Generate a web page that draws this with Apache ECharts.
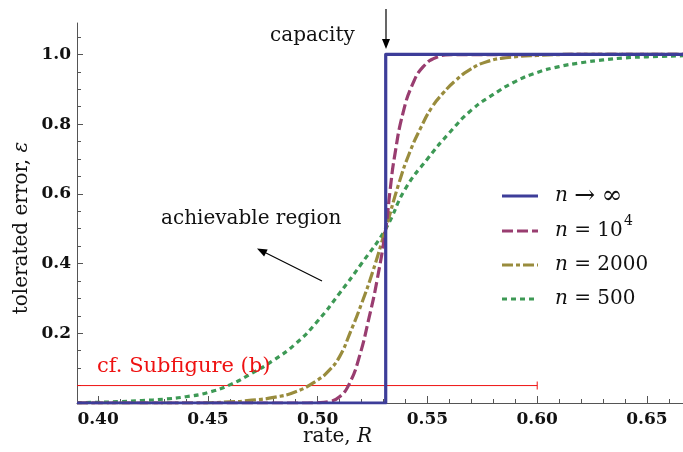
<!DOCTYPE html>
<html>
<head>
<meta charset="utf-8">
<script src="https://cdn.jsdelivr.net/npm/echarts@6/dist/echarts.min.js"></script>
<style>
html,body{margin:0;padding:0;background:#fff;}
#chart{width:683px;height:452px;}
</style>
</head>
<body>
<div id="chart"></div>
<script>
// ---- data ----
const xMin = 0.3904, xMax = 0.6664, yMin = 0, yMax = 1.09;
const xMajorTicks = [0.40, 0.45, 0.50, 0.55, 0.60, 0.65];
const xMinorTicks = [0.41,0.42,0.43,0.44,0.46,0.47,0.48,0.49,0.51,0.52,0.53,0.54,0.56,0.57,0.58,0.59,0.61,0.62,0.63,0.64,0.66];
const yMajorTicks = [0.2, 0.4, 0.6, 0.8, 1.0];
const yMinorTicks = [0.05,0.10,0.15,0.25,0.30,0.35,0.45,0.50,0.55,0.65,0.70,0.75,0.85,0.90,0.95,1.05];

const rateInf = [0.3904, 0.531, 0.531, 0.6664];
const errInf  = [0, 0, 1, 1];

const rateN1e4 = [0.3904, 0.49, 0.50, 0.505, 0.510, 0.5145, 0.519, 0.5235, 0.527, 0.531, 0.533, 0.535, 0.539, 0.5435, 0.548, 0.554, 0.561, 0.6664];
const errN1e4  = [0, 0, 0.001, 0.004, 0.018, 0.056, 0.133, 0.247, 0.350, 0.500, 0.610, 0.706, 0.835, 0.918, 0.964, 0.991, 0.999, 1.0];

const rateN2000 = [0.3904, 0.44, 0.46, 0.47, 0.48, 0.49, 0.50, 0.505, 0.51, 0.515, 0.52, 0.525, 0.531, 0.537, 0.542, 0.547, 0.552, 0.557, 0.563, 0.569, 0.577, 0.587, 0.60, 0.62, 0.6664];
const errN2000  = [0.000, 0.000, 0.003, 0.008, 0.016, 0.032, 0.066, 0.092, 0.133, 0.205, 0.285, 0.375, 0.500, 0.630, 0.720, 0.790, 0.848, 0.888, 0.926, 0.955, 0.979, 0.991, 0.997, 1.0, 1.0];

const rateN500 = [0.3904, 0.40, 0.41, 0.42, 0.43, 0.44, 0.45, 0.46, 0.47, 0.48, 0.49, 0.50, 0.51, 0.52, 0.531, 0.54, 0.55, 0.56, 0.57, 0.58, 0.59, 0.60, 0.61, 0.62, 0.63, 0.64, 0.65, 0.6664];
const errN500  = [0.001, 0.002, 0.004, 0.007, 0.011, 0.018, 0.030, 0.052, 0.085, 0.123, 0.170, 0.235, 0.315, 0.400, 0.500, 0.615, 0.700, 0.775, 0.840, 0.885, 0.922, 0.948, 0.965, 0.976, 0.984, 0.990, 0.993, 0.996];

const refRate = [0.3904, 0.60];
const refErr  = [0.05, 0.05];

// ---- styling ----
const C_INF = '#3d3d99', C_1E4 = '#993d70', C_2000 = '#998c3d', C_500 = '#3d9955';
const AX = '#555';
const FONT = 'DejaVu Serif';
const zip = (a, b) => a.map((v, i) => [v, b[i]]);

const chart = echarts.init(document.getElementById('chart'), null, {renderer: 'canvas'});

const curve = (name, rate, err, color, width, dash, smooth) => ({
  name, type: 'line', data: zip(rate, err), showSymbol: false, symbol: 'none',
  smooth: smooth ? 0.5 : false,
  lineStyle: {color, width, type: dash, cap: 'butt', join: 'round'}, silent: true, z: 3
});

const refData = zip(refRate, refErr).map((p, i) =>
  i === refRate.length - 1 ? {value: p, symbol: 'rect', symbolSize: [1, 8]} : {value: p, symbol: 'none'});

const legendRows = [
  {y: 196, color: C_INF, dash: [], text: '{i|n} {b|→} {b|∞}'},
  {y: 231, color: C_1E4, dash: [11, 4], text: '{i|n} = 10'},
  {y: 265, color: C_2000, dash: [11, 3, 4, 3], text: '{i|n} = 2000'},
  {y: 299, color: C_500, dash: [5, 4], text: '{i|n} = 500'}
];
const rich = {
  i: {fontStyle: 'italic', fontFamily: FONT, fontSize: 20, fill: '#111'},
  b: {fontFamily: FONT, fontSize: 25, fill: '#111'}
};

const graphics = [];
legendRows.forEach(r => {
  graphics.push({type: 'line', shape: {x1: 502, y1: r.y, x2: 538, y2: r.y},
    style: {stroke: r.color, lineWidth: 3, lineDash: r.dash.length ? r.dash : null, lineCap: 'butt'}, z: 10});
  graphics.push({type: 'text', x: 555, y: r.y, style: {text: r.text, rich, fontFamily: FONT, fontSize: 20,
    fill: '#111', textVerticalAlign: 'middle', textAlign: 'left'}, z: 10});
});
graphics.push({type: 'text', x: 624, y: 221, style: {text: '4', fontFamily: FONT, fontSize: 14, fill: '#111', textVerticalAlign: 'middle'}, z: 10});
// annotations
graphics.push({type: 'text', x: 270, y: 36, style: {text: 'capacity', fontFamily: FONT, fontSize: 20, fill: '#111', textVerticalAlign: 'middle'}, z: 10});
graphics.push({type: 'line', shape: {x1: 386, y1: 9, x2: 386, y2: 42}, style: {stroke: '#000', lineWidth: 1.2}, z: 10});
graphics.push({type: 'polygon', shape: {points: [[382, 39], [390, 39], [386, 49]]}, style: {fill: '#000'}, z: 10});
graphics.push({type: 'text', x: 161, y: 219, style: {text: 'achievable region', fontFamily: FONT, fontSize: 20, fill: '#111', textVerticalAlign: 'middle'}, z: 10});
graphics.push({type: 'line', shape: {x1: 322, y1: 281, x2: 264, y2: 252}, style: {stroke: '#000', lineWidth: 1.2}, z: 10});
graphics.push({type: 'polygon', shape: {points: [[257, 248.5], [267.7, 249.4], [264.1, 256.6]]}, style: {fill: '#000'}, z: 10});
graphics.push({type: 'text', x: 97, y: 367, style: {text: 'cf. Subfigure (b)', fontFamily: FONT, fontSize: 21, fill: '#ee1111', textVerticalAlign: 'middle'}, z: 10});
// axis names
graphics.push({type: 'text', x: 303, y: 437, style: {text: 'rate, {i|R}', rich, fontFamily: FONT, fontSize: 20, fill: '#111', textVerticalAlign: 'middle'}, z: 10});
graphics.push({type: 'text', x: 22, y: 228, rotation: Math.PI / 2, style: {text: 'tolerated error, {i|ε}', rich, fontFamily: FONT, fontSize: 20, fill: '#111', textVerticalAlign: 'middle', textAlign: 'center'}, z: 10});

const majorX = {type: 'value', min: xMin, max: xMax, position: 'bottom',
  axisLine: {show: true, lineStyle: {color: AX, width: 1}},
  axisTick: {show: true, inside: true, length: 7, customValues: xMajorTicks, lineStyle: {color: AX}},
  axisLabel: {show: true, customValues: xMajorTicks, formatter: v => v.toFixed(2), margin: 8,
    fontFamily: FONT, fontWeight: 'bold', fontSize: 17, color: '#111'},
  splitLine: {show: false}};
const minorX = {type: 'value', min: xMin, max: xMax, position: 'bottom',
  axisLine: {show: false},
  axisTick: {show: true, inside: true, length: 4, customValues: xMinorTicks, lineStyle: {color: AX}},
  axisLabel: {show: false, customValues: xMinorTicks}, splitLine: {show: false}};
const majorY = {type: 'value', min: yMin, max: yMax, position: 'left',
  axisLine: {show: true, lineStyle: {color: AX, width: 1}},
  axisTick: {show: true, inside: true, length: 6, customValues: yMajorTicks, lineStyle: {color: AX}},
  axisLabel: {show: true, customValues: yMajorTicks, formatter: v => v.toFixed(1), margin: 6,
    fontFamily: FONT, fontWeight: 'bold', fontSize: 17, color: '#111'},
  splitLine: {show: false}};
const minorY = {type: 'value', min: yMin, max: yMax, position: 'left',
  axisLine: {show: false},
  axisTick: {show: true, inside: true, length: 4, customValues: yMinorTicks, lineStyle: {color: AX}},
  axisLabel: {show: false, customValues: yMinorTicks}, splitLine: {show: false}};

chart.setOption({
  animation: false,
  backgroundColor: '#fff',
  grid: {left: 77, right: 0, top: 23, bottom: 49, containLabel: false},
  xAxis: [majorX, minorX],
  yAxis: [majorY, minorY],
  series: [
    {name: 'ref', type: 'line', data: refData, showSymbol: true, symbol: 'none',
      lineStyle: {color: '#ee1111', width: 1}, itemStyle: {color: '#ee1111'}, silent: true, z: 2},
    curve('n = 500', rateN500, errN500, C_500, 3.2, [5, 4], true),
    curve('n = 2000', rateN2000, errN2000, C_2000, 3.2, [11, 3, 4, 3], true),
    curve('n = 10^4', rateN1e4, errN1e4, C_1E4, 3.2, [11, 4], true),
    curve('n → ∞', rateInf, errInf, C_INF, 3.2, 'solid', false)
  ],
  graphic: graphics
});
</script>
</body>
</html>
